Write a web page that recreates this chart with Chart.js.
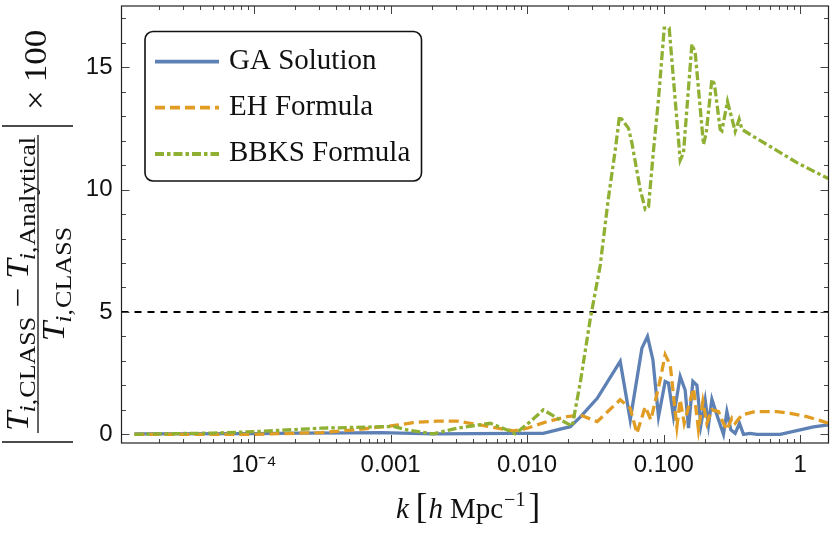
<!DOCTYPE html>
<html><head><meta charset="utf-8">
<script src="https://cdn.jsdelivr.net/npm/chart.js@4.4.0/dist/chart.umd.min.js"></script>
<style>html,body{margin:0;padding:0;background:#fff;}#wrap{width:830px;height:533px;position:relative;}</style>
</head><body><div id="wrap"><canvas id="c"></canvas></div>
<script>
// ---------- data ----------
const gaK = [1.33e-5,1.0e-4,2.18e-4,5.42e-4,8.41e-4,2.054e-3,7.91e-3,0.01312,0.02068,0.02447,0.03259,0.04803,0.05686,0.06925,0.0761,0.08334,0.09161,0.1025,0.1084,0.1180,0.1321,0.1437,0.1519,0.1636,0.1750,0.1872,0.2013,0.2128,0.2254,0.2453,0.2740,0.2902,0.3104,0.3337,0.3588,0.3839,0.4297,0.4811,0.7128,0.9444,1.2494,1.6004];
const gaErr = [0.02,0.03,0.05,0.06,0.07,0.02,0.04,0.04,0.31,0.7,1.47,2.98,0.59,3.52,4.0,3.05,0.72,2.16,2.09,0.72,2.36,1.8,0.25,2.16,2.0,0.38,1.4,0.38,1.43,0.79,0.0,0.93,0.18,0.04,0.45,0.0,0.04,0.0,0.0,0.15,0.3,0.39];

const ehK = [1.33e-5,1.0e-4,3.11e-4,5.42e-4,1.139e-3,1.466e-3,2.197e-3,3.078e-3,3.834e-3,5.37e-3,7.91e-3,0.01002,0.01403,0.01966,0.02447,0.03259,0.04803,0.05686,0.06365,0.07322,0.08058,0.09428,0.1025,0.1116,0.1249,0.1321,0.1413,0.1653,0.1798,0.1936,0.2071,0.2254,0.2519,0.2667,0.2902,0.3157,0.3337,0.3737,0.4675,0.6741,0.8436,1.1177,1.4786,1.6004];
const ehErr = [0.0,0.0,0.07,0.18,0.38,0.48,0.54,0.54,0.45,0.31,0.14,0.25,0.52,0.72,0.79,0.52,1.41,1.07,0.04,1.13,0.59,2.23,3.25,2.84,0.31,1.41,0.45,1.88,0.18,1.34,0.45,1.0,0.93,0.59,0.18,0.66,0.45,0.79,0.93,0.93,0.86,0.72,0.52,0.45];

const bbksK = [1.33e-5,2.0e-5,5.0e-5,1.005e-4,3.11e-4,8.41e-4,1.064e-3,1.326e-3,2.054e-3,3.078e-3,4.03e-3,5.37e-3,7.15e-3,8.18e-3,0.01054,0.01312,0.01747,0.02139,0.02447,0.02896,0.03428,0.03924,0.04415,0.04746,0.05526,0.05851,0.0673,0.07322,0.07739,0.08419,0.09161,0.1009,0.1097,0.1321,0.1396,0.1609,0.1701,0.1956,0.2047,0.2254,0.2355,0.2592,0.2667,0.2931,0.3337,0.3570,0.3737,0.4297,0.6020,0.9444,1.6004];
const bbksErr = [0.0,0.02,0.05,0.11,0.25,0.31,0.31,0.18,0.02,0.25,0.35,0.45,0.18,0.02,0.52,1.0,0.59,0.34,2.1,4.7,6.9,9.6,11.6,13.0,12.5,11.9,10.0,9.2,9.3,11.6,13.7,16.6,16.6,11.2,11.5,15.94,15.6,11.84,12.3,14.5,14.3,12.46,12.4,13.6,12.38,12.87,12.46,12.25,11.76,11.1,10.45];

const thresholdLevel = 5;
const seriesNames = ['GA Solution','EH Formula','BBKS Formula'];
const xTickValues = [1e-4,1e-3,1e-2,1e-1,1];
const xTickLabels = ['10\u207B\u2074','0.001','0.010','0.100','1'];
const yTickValues = [0,5,10,15];
const yTickLabels = ['0','5','10','15'];
const xRange = [1.07e-5, 1.61];
const yRange = [-0.355, 17.5];

// ---------- helpers ----------
const toPts = (ks, vs) => ks.map((k,i)=>({x:k,y:vs[i]}));
const SERIF = '"Liberation Serif","Times New Roman",serif';

function runWidth(ctx, pieces){
  let w = 0;
  for (const p of pieces){ ctx.font = p.font; w += ctx.measureText(p.t).width + (p.gap||0); }
  return w;
}
function drawRun(ctx, pieces, x0, base){
  let x = x0;
  for (const p of pieces){
    ctx.font = p.font;
    ctx.fillText(p.t, x, base + (p.dy||0));
    x += ctx.measureText(p.t).width + (p.gap||0);
  }
}

const frameTicks = {
  id:'frameTicks',
  afterDatasetsDraw(chart){
    const {ctx, chartArea:a, scales} = chart;
    const xs = scales.x, ys = scales.y;
    ctx.save();
    ctx.strokeStyle = '#444'; ctx.lineWidth = 1;
    ctx.beginPath();
    for (let v = Math.ceil(yRange[0]); v <= yRange[1]; v++){
      const py = Math.round(ys.getPixelForValue(v)) + 0.5;
      const L = (v % 5 === 0) ? 8 : 4.5;
      ctx.moveTo(a.left, py); ctx.lineTo(a.left + L, py);
      ctx.moveTo(a.right, py); ctx.lineTo(a.right - L, py);
    }
    for (let e = -6; e <= 1; e++){
      for (let m = 1; m <= 9; m++){
        const v = m * Math.pow(10, e);
        if (v < xRange[0] || v > xRange[1]) continue;
        const px = Math.round(xs.getPixelForValue(v)) + 0.5;
        const L = (m === 1) ? 8 : 4;
        ctx.moveTo(px, a.bottom); ctx.lineTo(px, a.bottom - L);
        ctx.moveTo(px, a.top); ctx.lineTo(px, a.top + L);
      }
    }
    ctx.stroke();
    ctx.strokeStyle = '#222'; ctx.lineWidth = 1.2;
    ctx.strokeRect(a.left, a.top, a.right - a.left, a.bottom - a.top);
    ctx.restore();
  },
  afterDraw(chart){
    const ctx = chart.ctx;
    const ds = chart.data.datasets;
    ctx.save();
    // ----- legend -----
    const bx = 145, by = 31.5, bw = 276.5, bh = 149.5, r = 8;
    ctx.beginPath();
    ctx.roundRect(bx, by, bw, bh, r);
    ctx.fillStyle = '#fff'; ctx.fill();
    ctx.lineWidth = 1.6; ctx.strokeStyle = '#111'; ctx.stroke();
    const rowsY = [61.7, 107.7, 154];
    for (let i = 0; i < 3; i++){
      const d = ds[i];
      ctx.beginPath();
      ctx.setLineDash(d.borderDash || []);
      ctx.lineWidth = 3.8; ctx.strokeStyle = d.borderColor; ctx.lineCap = 'butt';
      ctx.moveTo(155, rowsY[i]); ctx.lineTo(219, rowsY[i]); ctx.stroke();
      ctx.setLineDash([]);
      ctx.fillStyle = '#111'; ctx.font = '29px ' + SERIF; ctx.textBaseline = 'alphabetic'; ctx.textAlign = 'left';
      ctx.fillText(d.label, 229, rowsY[i] + 7);
    }
    // ----- x-axis title: k [h Mpc^-1] -----
    {
      const S = 29;
      const it = `italic ${S}px ${SERIF}`, rm = `${S}px ${SERIF}`, br = `${Math.round(S*1.2)}px ${SERIF}`, sup = `${Math.round(S*0.7)}px ${SERIF}`;
      const pcs = [
        {t:'k', font:it, gap:7},
        {t:'[', font:br, gap:1},
        {t:'h', font:it, gap:7},
        {t:'Mpc', font:rm, gap:1},
        {t:'\u22121', font:sup, dy:-S*0.42, gap:3},
        {t:']', font:br}
      ];
      ctx.fillStyle = '#111'; ctx.textAlign = 'left'; ctx.textBaseline = 'alphabetic';
      const W = runWidth(ctx, pcs);
      drawRun(ctx, pcs, 468 - W/2, 518);
    }
    // ----- y-axis title -----
    {
      const S = 31, s = 23;
      const it = `italic ${S}px ${SERIF}`, rm = `${S}px ${SERIF}`, sit = `italic ${s}px ${SERIF}`, srm = `${s}px ${SERIF}`;
      const dsub = S*0.24;
      const Tsub = (sub) => [
        {t:'T', font:it, gap:-1},
        {t:'i', font:sit, dy:dsub},
        {t:',', font:srm, dy:dsub, gap:1},
        {t:sub, font:srm, dy:dsub}
      ];
      const num = [...Tsub('CLASS'), {t:'', font:rm, gap:8}, {t:'\u2212', font:rm, gap:8}, ...Tsub('Analytical')];
      const den = Tsub('CLASS');
      const times = [{t:'\u00D7', font:rm, gap:7}, {t:'100', font:rm}];
      ctx.translate(38, 442);
      ctx.rotate(-Math.PI/2);
      ctx.fillStyle = '#111'; ctx.textAlign = 'left'; ctx.textBaseline = 'alphabetic';
      const Wn = runWidth(ctx, num);
      const sx = 294 / Wn;
      const uc = 158;
      ctx.strokeStyle = '#111'; ctx.lineWidth = 1.3;
      ctx.beginPath(); ctx.moveTo(9, 0); ctx.lineTo(307, 0); ctx.stroke();
      ctx.lineWidth = 1.5;
      ctx.beginPath();
      ctx.moveTo(0, -36); ctx.lineTo(0, 35);
      ctx.moveTo(316, -36); ctx.lineTo(316, 35);
      ctx.stroke();
      ctx.save(); ctx.translate(uc, 0); ctx.scale(sx, 1);
      drawRun(ctx, num, -Wn/2, -10);
      const Wd = runWidth(ctx, den);
      drawRun(ctx, den, -Wd/2, 26);
      ctx.restore();
      ctx.save(); ctx.translate(332, 0); ctx.scale(sx, 1);
      drawRun(ctx, times, 0, 8);
      ctx.restore();
    }
    ctx.restore();
  }
};

const lineBase = {pointRadius:0, tension:0, fill:false, borderWidth:3.3, borderCapStyle:'butt', borderJoinStyle:'miter'};

new Chart(document.getElementById('c'), {
  type:'line',
  data:{
    datasets:[
      {...lineBase, label:seriesNames[0], data:toPts(gaK,gaErr), borderColor:'#5E81B5', order:3},
      {...lineBase, label:seriesNames[1], data:toPts(ehK,ehErr), borderColor:'#E19C24', borderDash:[10,5], order:2},
      {...lineBase, label:seriesNames[2], data:toPts(bbksK,bbksErr), borderColor:'#8FB032', borderDash:[9,3,3.5,3], order:1},
      {...lineBase, label:'threshold', data:[{x:xRange[0],y:thresholdLevel},{x:xRange[1],y:thresholdLevel}], borderColor:'#000', borderWidth:1.9, borderDash:[7,6], order:4}
    ]
  },
  options:{
    responsive:true, maintainAspectRatio:false, animation:false, devicePixelRatio:1,
    layout:{padding:{top:6, right:1.5, left:0, bottom:0}},
    plugins:{legend:{display:false}, tooltip:{enabled:false}},
    scales:{
      x:{
        type:'logarithmic', min:xRange[0], max:xRange[1],
        grid:{display:false, drawTicks:false, tickLength:0}, border:{display:false},
        afterFit(s){ s.height = 90; s.paddingLeft = 0; s.paddingRight = 0; },
        afterBuildTicks(s){ s.ticks = xTickValues.map(v=>({value:v, major:true})); },
        ticks:{autoSkip:false, maxRotation:0, minRotation:0, padding:8, color:'#111',
          font:{family:'Liberation Sans', size:24},
          callback(v){ const i = xTickValues.findIndex(t=>Math.abs(t-v)/t < 1e-6); return i>=0 ? xTickLabels[i] : ''; }}
      },
      y:{
        type:'linear', min:yRange[0], max:yRange[1],
        grid:{display:false, drawTicks:false, tickLength:0}, border:{display:false},
        afterFit(s){ s.width = 121.5; s.paddingTop = 0; s.paddingBottom = 0; },
        afterBuildTicks(s){ s.ticks = yTickValues.map(v=>({value:v})); },
        ticks:{autoSkip:false, padding:9, color:'#111',
          font:{family:'Liberation Sans', size:24},
          callback(v){ const i = yTickValues.indexOf(v); return i>=0 ? yTickLabels[i] : ''; }}
      }
    }
  },
  plugins:[frameTicks]
});
</script></body></html>
